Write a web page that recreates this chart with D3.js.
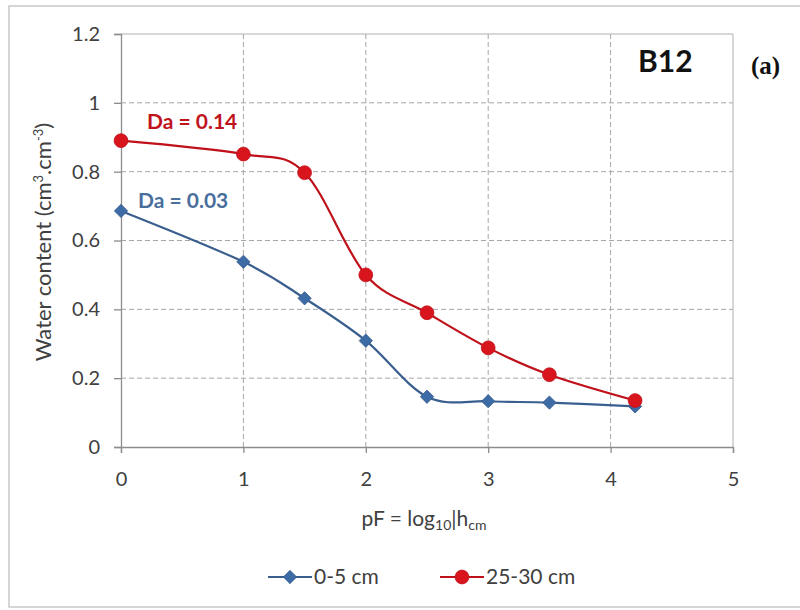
<!DOCTYPE html>
<html><head><meta charset="utf-8">
<script src="https://cdn.jsdelivr.net/npm/d3@7"></script>
<style>body{margin:0;background:#fff}svg{display:block}</style>
</head><body>
<svg id="c" width="800" height="610"></svg>
<script>
const pF = [0, 1, 1.5, 2, 2.5, 3, 3.5, 4.2];
const shallow = [0.686, 0.538, 0.432, 0.309, 0.146, 0.133, 0.129, 0.118];
const deep = [0.890, 0.851, 0.797, 0.500, 0.390, 0.288, 0.210, 0.135];
const seriesNames = ["0-5 cm", "25-30 cm"];
const xTicks = [0, 1, 2, 3, 4, 5];
const yTicks = [0, 0.2, 0.4, 0.6, 0.8, 1, 1.2];
const daLabels = ["Da = 0.03", "Da = 0.14"];

const svg = d3.select("#c");
const FONT = "Lato, 'Open Sans', sans-serif";
const FS = 20;
const L = 121, R = 733, T = 34, B = 447;
const x = d3.scaleLinear().domain([0, 5]).range([L, R]);
const y = d3.scaleLinear().domain([0, 1.2]).range([B, T]);

// outer frame
svg.append("rect").attr("x", 9).attr("y", 6).attr("width", 800).attr("height", 601)
  .attr("fill", "none").attr("stroke", "#c8c8c8").attr("stroke-width", 1.5);

// grid
const grid = svg.append("g").attr("stroke", "#a6a6a6").attr("stroke-dasharray", "5,3").attr("stroke-width", 1);
grid.selectAll("line.h").data(yTicks.filter(d => d > 0 && d < 1.2)).join("line")
  .attr("x1", L).attr("x2", R).attr("y1", d => y(d)).attr("y2", d => y(d));
grid.selectAll("line.v").data(xTicks.filter(d => d > 0 && d < 5)).join("line")
  .attr("y1", T).attr("y2", B).attr("x1", d => x(d)).attr("x2", d => x(d));

// plot border top/right
svg.append("path").attr("d", `M${L},${T}H${R}V${B}`).attr("fill", "none").attr("stroke", "#b0b0b0").attr("stroke-width", 1);

// axes
const xa = svg.append("g").attr("transform", `translate(0,${B})`)
  .call(d3.axisBottom(x).tickValues(xTicks).tickFormat(d3.format("d")).tickSize(6).tickPadding(19));
const ya = svg.append("g").attr("transform", `translate(${L},0)`)
  .call(d3.axisLeft(y).tickValues(yTicks).tickFormat(d => d === 0 ? "0" : d === 1 ? "1" : d3.format(".1f")(d)).tickSize(7).tickPadding(14));
[xa, ya].forEach(a => {
  a.select(".domain").attr("stroke", "#8c8c8c").attr("stroke-width", 1.3);
  a.selectAll(".tick line").attr("stroke", "#8c8c8c").attr("stroke-width", 1.3);
  a.selectAll("text").attr("font-family", FONT).attr("font-size", FS).attr("fill", "#404040");
});

// axis titles
svg.append("text").attr("transform", "translate(51,242) rotate(-90)").attr("text-anchor", "middle")
  .attr("font-family", FONT).attr("font-size", FS + 2).attr("fill", "#404040")
  .html('Water content (cm<tspan dy="-8" font-size="13">3</tspan><tspan dy="8">.cm</tspan><tspan dy="-8" font-size="13">-3</tspan><tspan dy="8">)</tspan>');
svg.append("text").attr("x", 424).attr("y", 526).attr("text-anchor", "middle")
  .attr("font-family", FONT).attr("font-size", FS + 1).attr("fill", "#404040")
  .html('pF = log<tspan dy="4" font-size="14">10</tspan><tspan dy="-4">|h</tspan><tspan dy="4" font-size="14">cm</tspan>');

const colors = { line: ["#3a5f8f", "#c0101a"], mark: ["#3d6ba6", "#d8141c"] };
const line = d3.line().x(d => x(d[0])).y(d => y(d[1])).curve(d3.curveCardinal.tension(0));
[shallow, deep].forEach((vals, i) => {
  const pts = pF.map((p, k) => [p, vals[k]]);
  svg.append("path").datum(pts).attr("d", line).attr("fill", "none")
    .attr("stroke", colors.line[i]).attr("stroke-width", 2.2);
});
// markers: blue diamonds (square rotated) then red circles on top
const markerPath = i => i === 0 ? d3.symbol(d3.symbolSquare, 88)() : d3.symbol(d3.symbolCircle, 150)();
const markerRot = [45, 0];
[shallow, deep].forEach((vals, i) => {
  svg.append("g").selectAll("path").data(pF.map((p, k) => [p, vals[k]])).join("path")
    .attr("transform", d => `translate(${x(d[0])},${y(d[1])}) rotate(${markerRot[i]})`)
    .attr("d", markerPath(i))
    .attr("fill", colors.mark[i]).attr("stroke", colors.line[i]).attr("stroke-width", 0.8);
});

// Da labels
svg.append("text").attr("x", 138).attr("y", 208).attr("font-family", FONT).attr("font-weight", "bold")
  .attr("font-size", FS + 1).attr("fill", "#4a6f9c").text(daLabels[0]);
svg.append("text").attr("x", 147).attr("y", 129).attr("font-family", FONT).attr("font-weight", "bold")
  .attr("font-size", FS + 1).attr("fill", "#c0141c").text(daLabels[1]);

// B12 and (a)
svg.append("text").attr("x", 638).attr("y", 72).attr("font-family", FONT).attr("font-weight", "bold")
  .attr("font-size", 30).attr("fill", "#111").text("B12");
svg.append("text").attr("x", 751).attr("y", 74).attr("font-family", "'Liberation Serif', serif").attr("font-weight", "bold")
  .attr("font-size", 25).attr("fill", "#111").text("(a)");

// legend
const legX = [268, 440];
seriesNames.forEach((n, i) => {
  const g = svg.append("g").attr("transform", `translate(${legX[i]},577)`);
  g.append("line").attr("x1", 0).attr("x2", 44).attr("stroke", colors.line[i]).attr("stroke-width", 2.2);
  g.append("path").attr("transform", `translate(22,0) rotate(${markerRot[i]})`).attr("d", markerPath(i))
    .attr("fill", colors.mark[i]).attr("stroke", colors.line[i]).attr("stroke-width", 0.8);
  g.append("text").attr("x", 46).attr("y", 7).attr("font-family", FONT).attr("font-size", FS + 1)
    .attr("fill", "#404040").text(n);
});
</script>
</body></html>
